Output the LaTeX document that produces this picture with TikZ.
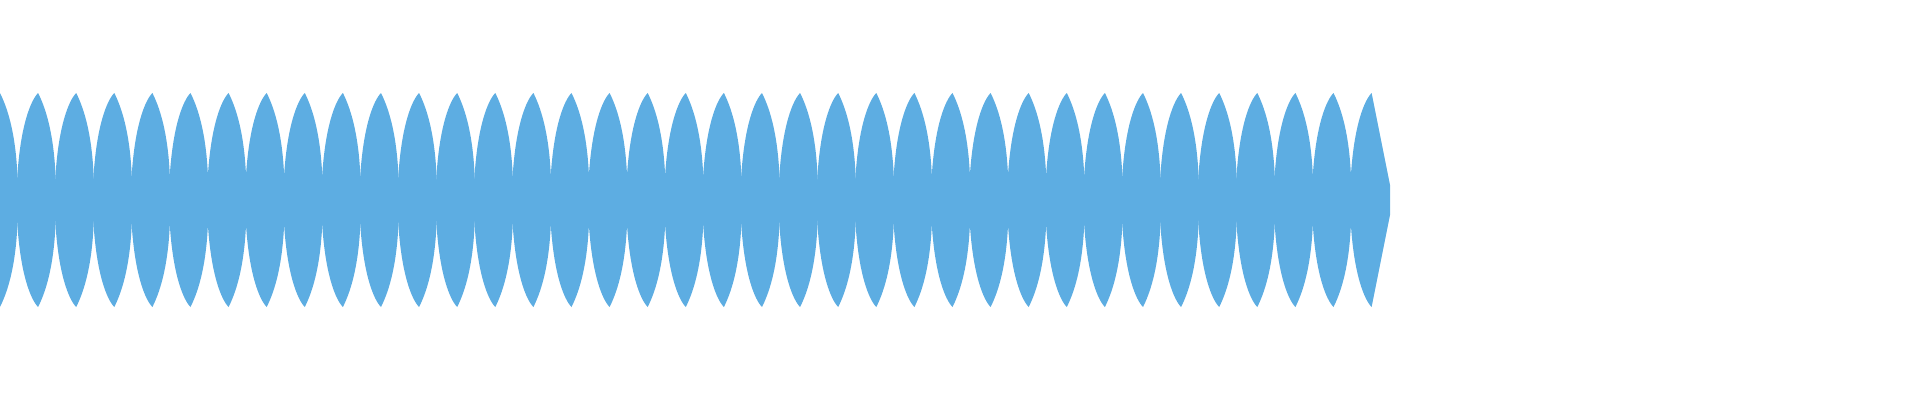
\documentclass[tikz,border=0pt]{standalone}
\definecolor{wave}{RGB}{93,173,226}
\begin{document}
\begin{tikzpicture}[x=1pt,y=-1pt,lobe/.style={fill=wave,draw=none}]
\useasboundingbox (0,0) rectangle (1920,400);
\begin{scope}
\clip (0,0) rectangle (1390,400);
\foreach \k in {0,...,35}{
  \pgfmathsetmacro{\w}{-21+38.1*\k}
  \fill[lobe] (\w,180) .. controls (\w+3,125) and (\w+14,100) .. (\w+21,93)
     .. controls (\w+27,105) and (\w+37,130) .. (\w+38.6,180) -- (\w+38.6,220)
     .. controls (\w+37,270) and (\w+27,295) .. (\w+21,307)
     .. controls (\w+14,300) and (\w+3,275) .. (\w,220) -- cycle;
}
\pgfmathsetmacro{\w}{-21+38.1*36}
\fill[lobe] (\w,180) .. controls (\w+3,125) and (\w+14,100) .. (\w+21,93)
   -- (1390,185) -- (1390,215) -- (\w+21,307)
   .. controls (\w+14,300) and (\w+3,275) .. (\w,220) -- cycle;
\fill[lobe] (0,180) rectangle (1385,220);
\end{scope}
\end{tikzpicture}
\end{document}
